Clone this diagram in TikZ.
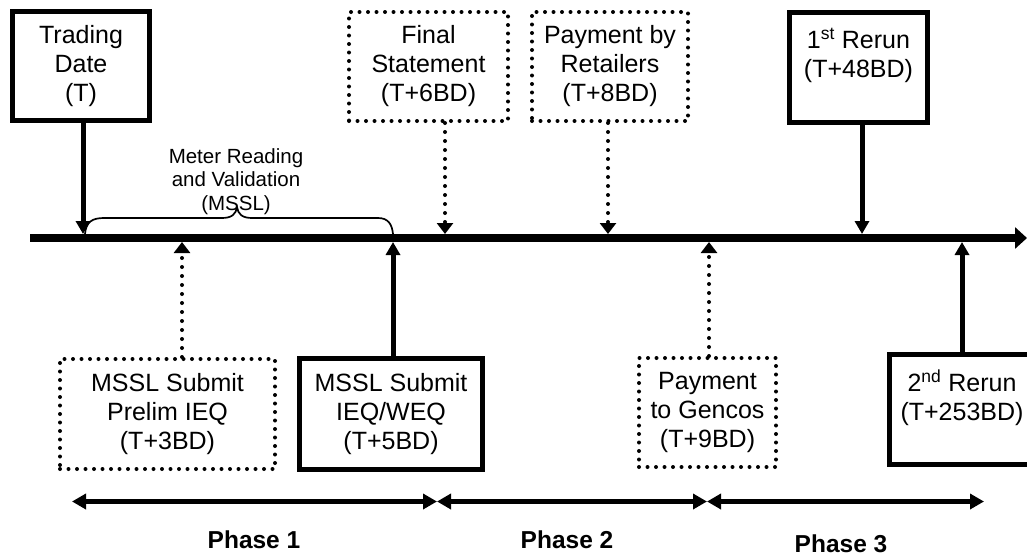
\documentclass[tikz,border=0pt]{standalone}
\usepackage{fontspec}
\setmainfont{Liberation Sans}
\usetikzlibrary{arrows.meta}
\begin{document}
\begin{tikzpicture}[x=1pt,y=-1pt,
  boxtext/.style={align=center,font=\fontsize{25pt}{29pt}\selectfont,inner sep=0pt},
  solidbox/.style={boxtext,draw,line width=5pt},
  dotbox/.style={boxtext,draw,line width=4pt,line cap=round,dash pattern=on 0pt off 8.5pt},
  solidarrow/.style={line width=5pt,-{Triangle[length=13pt,width=14pt]}},
  dotarrow/.style={line width=4pt,line cap=round,dash pattern=on 0pt off 9pt,-{Triangle[length=11pt,width=16pt]}},
  phasearrow/.style={line width=5pt,{Triangle[length=14pt,width=15pt]}-{Triangle[length=14pt,width=15pt]}},
  phaselabel/.style={font=\bfseries\fontsize{24.5pt}{28pt}\selectfont,anchor=base,inner sep=0pt},
  smalltext/.style={font=\fontsize{20.5pt}{23.5pt}\selectfont,align=center,inner sep=0pt}
]
\fill[white] (0,0) rectangle (1027,557);
\useasboundingbox (0,0) rectangle (1027,557);
\clip (0,0) rectangle (1027,557);

% boxes
\node[solidbox,minimum width=137pt,minimum height=109pt] (td) at (81,66) {Trading\\Date\\(T)};
\node[dotbox,minimum width=159pt,minimum height=109pt] (fs) at (428.5,66.5) {Final\\Statement\\(T+6BD)};
\node[dotbox,minimum width=156pt,minimum height=109pt] (pr) at (610,66.5) {Payment by\\Retailers\\(T+8BD)};
\node[solidbox,minimum width=138pt,minimum height=110pt] (r1) at (858.5,67.5) {1\textsuperscript{st} Rerun\\(T+48BD)\\\mbox{}};
\node[dotbox,minimum width=215pt,minimum height=110pt] (mp) at (167.5,414) {MSSL Submit\\Prelim IEQ\\(T+3BD)};
\node[solidbox,minimum width=183pt,minimum height=111pt] (iw) at (391,414) {MSSL Submit\\IEQ/WEQ\\(T+5BD)};
\node[dotbox,minimum width=137pt,minimum height=109pt] (pg) at (707.5,412.5) {Payment\\to Gencos\\(T+9BD)};
\node[solidbox,minimum width=145pt,minimum height=110pt] (r2) at (962,409.5) {2\textsuperscript{nd} Rerun\\(T+253BD)\\\mbox{}};

% timeline
\coordinate (tlS) at (30,238);
\coordinate (tlE) at (1027,238);
\draw[line width=8pt,-{Triangle[length=12pt,width=21pt]}] (tlS) -- (tlE);

% points on timeline
\coordinate (aT) at (83,234);
\coordinate (a6) at (445,234);
\coordinate (a8) at (608,234);
\coordinate (a48) at (862,234);
\coordinate (a3) at (182,242);
\coordinate (a5) at (393,242);
\coordinate (a9) at (709,242);
\coordinate (a253) at (962,242);

\draw[solidarrow] (td.south -| aT) -- (aT);
\draw[dotarrow] (fs.south -| a6) -- (a6);
\draw[dotarrow] (pr.south -| a8) -- (a8);
\draw[solidarrow] (r1.south -| a48) -- (a48);
\draw[dotarrow] (mp.north -| a3) -- (a3);
\draw[solidarrow] (iw.north -| a5) -- (a5);
\draw[dotarrow] (pg.north -| a9) -- (a9);
\draw[solidarrow] (r2.north -| a253) -- (a253);

% brace
\coordinate (bL) at (85,234);
\coordinate (bM) at (237,207);
\coordinate (bR) at (393,234);
\draw[line width=1.7pt] (bL) .. controls (86,222) and (92,218) .. (104,218) -- (222,218) .. controls (232,218) and (236,214) .. (bM) .. controls (238,214) and (242,218) .. (252,218) -- (378,218) .. controls (388,218) and (392,224) .. (bR);
\node[smalltext] (mr) at (236,181.5) {Meter Reading\\and Validation\\(MSSL)};

% phases
\coordinate (p0) at (72,501.5);
\coordinate (p1) at (437,501.5);
\coordinate (p2) at (707,501.5);
\coordinate (p3) at (984,501.5);
\draw[phasearrow] (p0) -- (p1);
\draw[phasearrow] (p1) -- (p2);
\draw[phasearrow] (p2) -- (p3);
\node[phaselabel] (ph1) at (254,548) {Phase 1};
\node[phaselabel] (ph2) at (567,548) {Phase 2};
\node[phaselabel] (ph3) at (841,552) {Phase 3};
\end{tikzpicture}
\end{document}
